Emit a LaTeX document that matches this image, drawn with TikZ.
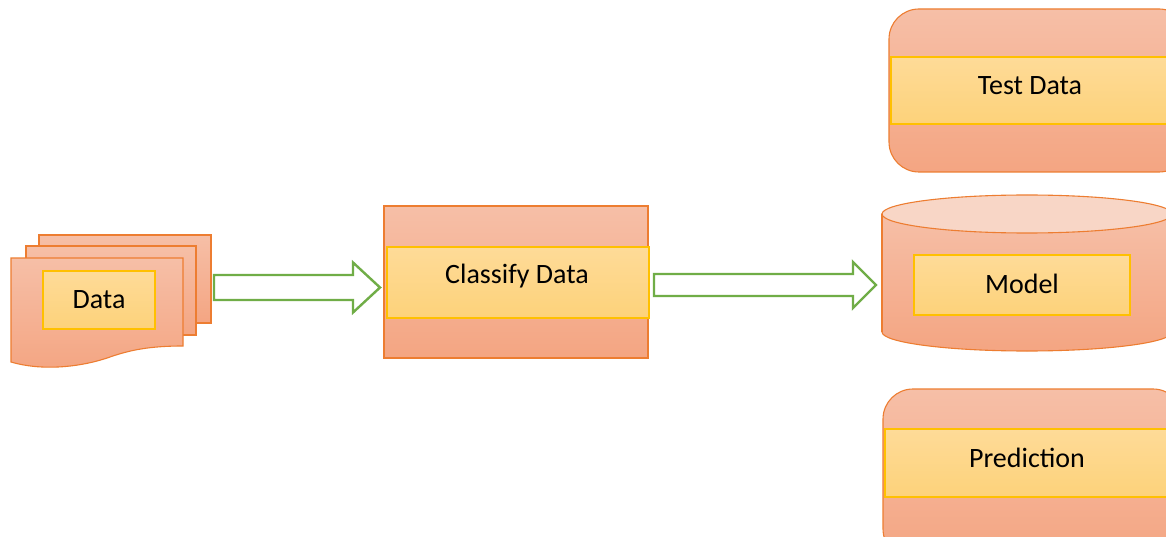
\documentclass[tikz,border=0pt]{standalone}
\usepackage{fontspec}
\setmainfont{Carlito}
\usetikzlibrary{calc}
\definecolor{otop}{HTML}{F6BFA7}
\definecolor{obot}{HTML}{F4A582}
\definecolor{oline}{HTML}{ED7D31}
\definecolor{ytop}{HTML}{FEDB98}
\definecolor{ybot}{HTML}{FDD27A}
\definecolor{yline}{HTML}{FFC000}
\definecolor{gline}{HTML}{70AD47}
\definecolor{ctop}{HTML}{F8D6C6}
\tikzset{
  outer/.style={draw=oline, line width=1.1pt, top color=otop, bottom color=obot},
  inner/.style={draw=yline, line width=1.3pt, top color=ytop, bottom color=ybot,
    inner sep=0pt, font=\fontsize{28}{32}\selectfont, text=black},
  lbl/.style={font=\fontsize{28}{32}\selectfont, text=black, inner sep=0pt},
  blockarrow/.style={draw=gline, line width=2.4pt, fill=white, line join=miter},
}
\begin{document}
\begin{tikzpicture}[x=1pt,y=-1pt]
\useasboundingbox (0,0) rectangle (1166,537);
\clip (0,0) rectangle (1166,537);
\fill[white] (0,0) rectangle (1166,537);
% Data document stack
\draw[outer] (39,235) rectangle (211,323);
\draw[outer] (26,246) rectangle (196,335);
\draw[outer] (11,258) -- (183,258) -- (183,346)
  .. controls (150,346) and (130,350) .. (110,357)
  .. controls (85,366) and (45,372) .. (11,362) -- cycle;
\node[inner, minimum width=112pt, minimum height=58pt] (data) at (99,300) {};
\node[lbl] (datat) at (99,300) {Data};
% Classify
\node[outer, minimum width=264pt, minimum height=152pt, inner sep=0pt] (clsbox) at (516,282) {};
\node[inner, minimum width=262pt, minimum height=71pt] (cls) at (518,282.5) {};
\node[lbl] (clst) at (517,276) {Classify Data};
% Test Data
\node[outer, rounded corners=30pt, minimum width=300pt, minimum height=163pt, inner sep=0pt] (tdbox) at (1039,90.5) {};
\node[inner, minimum width=300pt, minimum height=67pt] (td) at (1041,90.5) {};
\node[lbl] (tdt) at (1030,86) {Test Data};
% Model cylinder
\path[outer] (882,214) -- (882,332) arc[start angle=180, end angle=0, x radius=145, y radius=19]
  -- (1172,214) -- cycle;
\draw[oline, line width=1.1pt, fill=ctop] (1027,214) ellipse[x radius=145, y radius=19];
\draw[oline, line width=1.1pt] (882,214) -- (882,332);
\node[inner, minimum width=216pt, minimum height=60pt] (model) at (1022,285) {};
\node[lbl] (modelt) at (1022,284) {Model};
% Prediction
\node[outer, rounded corners=30pt, minimum width=300pt, minimum height=170pt, inner sep=0pt] (prbox) at (1033,474) {};
\node[inner, minimum width=300pt, minimum height=68pt] (pr) at (1035,463) {};
\node[lbl] (prt) at (1027,458) {Prediction};
% Block arrows
\coordinate (a1s) at (214,287.5);
\coordinate (a1e) at (380,287.5);
\draw[blockarrow] ($(a1s)+(0,-12.5)$) -- ($(a1e)+(-27,-12.5)$) -- ($(a1e)+(-27,-25)$)
  -- (a1e) -- ($(a1e)+(-27,25)$) -- ($(a1e)+(-27,12.5)$) -- ($(a1s)+(0,12.5)$) -- cycle;
\coordinate (a2s) at (654,285);
\coordinate (a2e) at (876,285);
\draw[blockarrow] ($(a2s)+(0,-11)$) -- ($(a2e)+(-23,-11)$) -- ($(a2e)+(-23,-23)$)
  -- (a2e) -- ($(a2e)+(-23,23)$) -- ($(a2e)+(-23,11)$) -- ($(a2s)+(0,11)$) -- cycle;
\end{tikzpicture}
\end{document}
